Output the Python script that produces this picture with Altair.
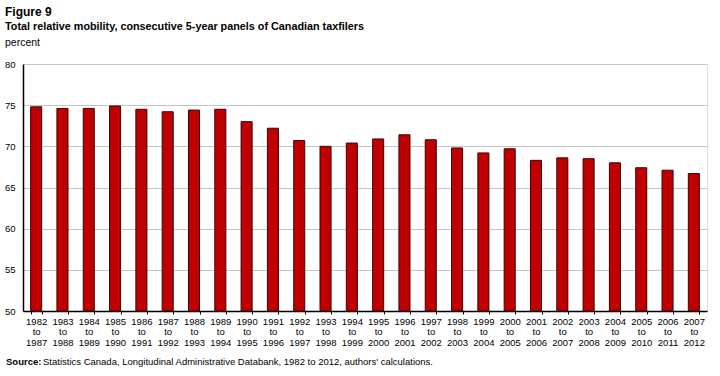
import altair as alt
import pandas as pd

start_years = [1982, 1983, 1984, 1985, 1986, 1987, 1988, 1989, 1990, 1991, 1992, 1993, 1994,
               1995, 1996, 1997, 1998, 1999, 2000, 2001, 2002, 2003, 2004, 2005, 2006, 2007]
end_years = [1987, 1988, 1989, 1990, 1991, 1992, 1993, 1994, 1995, 1996, 1997, 1998, 1999,
             2000, 2001, 2002, 2003, 2004, 2005, 2006, 2007, 2008, 2009, 2010, 2011, 2012]
mobility = [74.8, 74.6, 74.6, 74.9, 74.5, 74.2, 74.4, 74.5, 73.0, 72.2, 70.7, 70.0, 70.4,
            70.9, 71.4, 70.8, 69.8, 69.2, 69.7, 68.3, 68.6, 68.5, 68.0, 67.4, 67.1, 66.7]
y_ticks = [50, 55, 60, 65, 70, 75, 80]

fig_label = "Figure 9"
title_text = "Total relative mobility, consecutive 5-year panels of Canadian taxfilers"
unit_label = "percent"
source_bold = "Source:"
source_text = "Statistics Canada, Longitudinal Administrative Databank, 1982 to 2012, authors' calculations."

FONT = "Liberation Sans"
W, H = 684, 247

df = pd.DataFrame({
    "panel": [f"{s} to {e}" for s, e in zip(start_years, end_years)],
    "value": mobility,
})
order = list(df["panel"])

bars = alt.Chart(df).mark_bar(
    color="#C00000", stroke="#3a0505", strokeWidth=1, clip=True
).encode(
    x=alt.X("panel:N", sort=order, title=None,
            scale=alt.Scale(paddingInner=0.58, paddingOuter=0.29),
            axis=alt.Axis(labelAngle=0, labelExpr="split(datum.label, ' ')",
                          labelFont=FONT, labelFontSize=9.5, labelColor="#000000",
                          labelLineHeight=10.5, labelPadding=2, labelBaseline="top",
                          tickBand="extent", tickSize=3, tickColor="#000000",
                          domainColor="#000000", domainWidth=1.5, grid=False)),
    y=alt.Y("value:Q", title=None,
            scale=alt.Scale(domain=[50, 80], nice=False, zero=False),
            axis=alt.Axis(values=y_ticks, labelFont=FONT, labelFontSize=9.5,
                          labelColor="#000000", labelPadding=8, tickSize=0,
                          domainColor="#000000", domainWidth=1.5,
                          grid=True, gridColor="#c4c4c4", gridWidth=1)),
    y2=alt.datum(50),
)

txt = pd.DataFrame({"fig": [fig_label], "title": [title_text], "unit": [unit_label],
                    "a": [source_bold], "b": [source_text]})
base = alt.Chart(txt)
t_fig = base.mark_text(align="left", baseline="middle", font=FONT, fontSize=12,
                       fontWeight="bold", color="#000000").encode(
    text="fig:N", x=alt.value(-18), y=alt.value(-52))
t_title = base.mark_text(align="left", baseline="middle", font=FONT, fontSize=10.8,
                         fontWeight="bold", color="#000000").encode(
    text="title:N", x=alt.value(-18), y=alt.value(-37))
t_unit = base.mark_text(align="left", baseline="middle", font=FONT, fontSize=10.5,
                        color="#000000").encode(
    text="unit:N", x=alt.value(-18), y=alt.value(-21))
src_bold = base.mark_text(align="left", baseline="middle", font=FONT, fontSize=9.5,
                          fontWeight="bold", color="#000000").encode(
    text="a:N", x=alt.value(-17), y=alt.value(H + 51))
src_rest = base.mark_text(align="left", baseline="middle", font=FONT, fontSize=9.5,
                          color="#000000").encode(
    text="b:N", x=alt.value(20), y=alt.value(H + 51))

chart = alt.layer(bars, t_fig, t_title, t_unit, src_bold, src_rest).properties(
    width=W, height=H,
    autosize=alt.AutoSizeParams(type="none"),
    padding={"left": 23, "top": 64, "right": 13, "bottom": 65},
).configure_view(
    stroke="#7a7a7a", strokeWidth=2
).configure(background="#ffffff")

chart.save("out.html", embed_options={"renderer": "svg", "actions": False})
